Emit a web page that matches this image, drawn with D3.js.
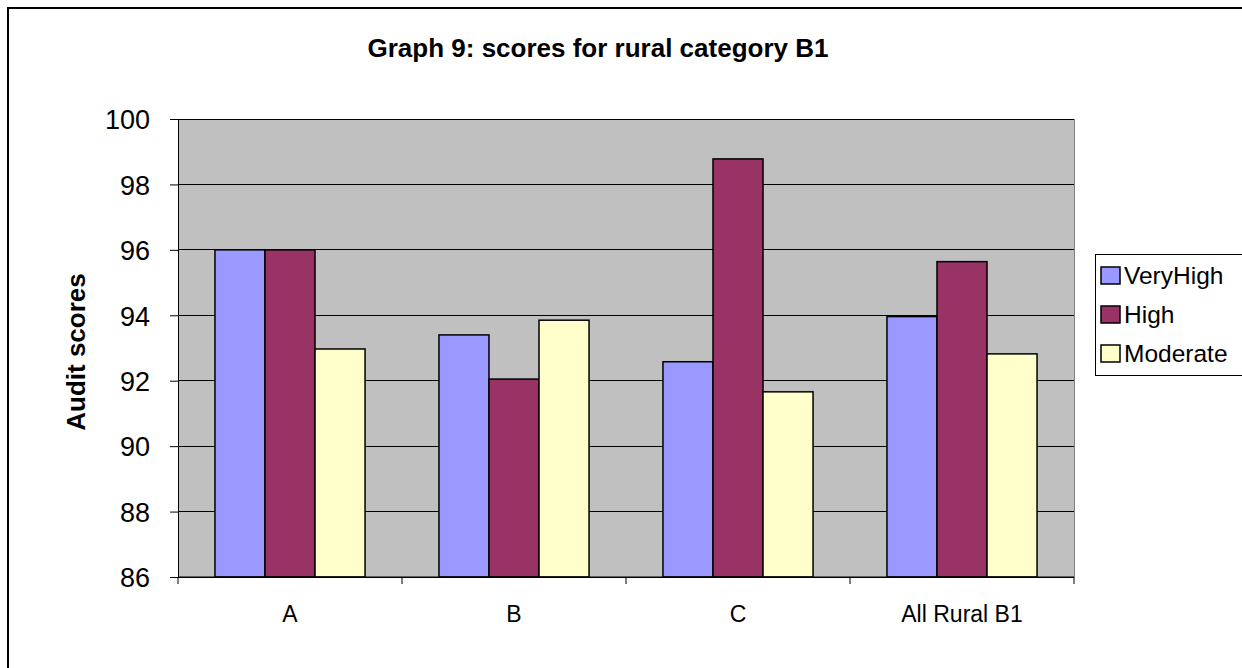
<!DOCTYPE html>
<html><head><meta charset="utf-8">
<script src="https://cdn.jsdelivr.net/npm/d3@7"></script>
<style>body{margin:0;background:#fff;}svg{display:block;font-family:"Liberation Sans",Arial,sans-serif;}</style>
</head><body>
<svg id="c" width="1242" height="668"></svg>
<script>
const categories = ["A", "B", "C", "All Rural B1"];
const seriesNames = ["VeryHigh", "High", "Moderate"];
const veryHigh = [96.0, 93.4, 92.58, 93.96];
const high = [96.0, 92.05, 98.78, 95.64];
const moderate = [92.97, 93.85, 91.66, 92.82];
const yTicks = [86, 88, 90, 92, 94, 96, 98, 100];
const colors = ["#9999FF", "#993366", "#FFFFCC"];
const seriesValues = [veryHigh, high, moderate];

const svg = d3.select("#c");
const L = 178, R = 1074, T = 119, B = 577;

// outer frame (left & top visible)
svg.append("path").attr("d", "M8,668 L8,8 L1242,8").attr("fill", "none").attr("stroke", "#000").attr("stroke-width", 2);

const x0 = d3.scaleBand().domain(categories).range([L, R]).paddingInner(0).paddingOuter(0);
const groupW = x0.bandwidth() * 0.67;
const x1 = d3.scaleBand().domain(seriesNames).range([0, groupW]);
const y = d3.scaleLinear().domain([86, 100]).range([B, T]);

svg.append("rect").attr("x", L).attr("y", T).attr("width", R - L).attr("height", B - T).attr("fill", "#C0C0C0");

// gridlines
svg.append("g").selectAll("line").data(yTicks).join("line")
  .attr("x1", L).attr("x2", R).attr("y1", d => y(d)).attr("y2", d => y(d))
  .attr("stroke", "#000").attr("stroke-width", 1).attr("shape-rendering", "crispEdges");
svg.append("line").attr("x1", R).attr("x2", R).attr("y1", T).attr("y2", B).attr("stroke", "#808080").attr("stroke-width", 1).attr("shape-rendering", "crispEdges");

// bars
const g = svg.append("g");
categories.forEach((c, ci) => {
  seriesNames.forEach((s, si) => {
    const v = seriesValues[si][ci];
    g.append("rect")
      .attr("x", x0(c) + (x0.bandwidth() - groupW) / 2 + x1(s))
      .attr("y", y(v))
      .attr("width", x1.bandwidth())
      .attr("height", y(86) - y(v))
      .attr("fill", colors[si]).attr("stroke", "#000").attr("stroke-width", 1.5);
  });
});

// y axis
const yAxis = d3.axisLeft(y).tickValues(yTicks).tickSize(8).tickPadding(20).tickFormat(d3.format("d"));
const ya = svg.append("g").attr("transform", `translate(${L},0)`).call(yAxis);
ya.attr("font-size", null).attr("font-family", null);
ya.selectAll("text").attr("font-size", 27).attr("fill", "#000").attr("dy", "0.36em");
ya.selectAll("line,path").attr("stroke", "#000");

// x axis
const xa = svg.append("g").attr("transform", `translate(0,${B})`);
xa.append("line").attr("x1", L).attr("x2", R).attr("y1", 0).attr("y2", 0).attr("stroke", "#000");
const bounds = categories.map(c => x0(c)).concat([R]);
xa.selectAll("line.t").data(bounds).join("line").attr("class", "t")
  .attr("x1", d => d).attr("x2", d => d).attr("y1", 0).attr("y2", 7).attr("stroke", "#000");
xa.selectAll("text").data(categories).join("text")
  .attr("x", d => x0(d) + x0.bandwidth() / 2).attr("y", 45)
  .attr("text-anchor", "middle").attr("font-size", 23).attr("fill", "#000").text(d => d);

// title
svg.append("text").attr("x", 598).attr("y", 57).attr("text-anchor", "middle")
  .attr("font-size", 26).attr("font-weight", "bold").text("Graph 9: scores for rural category B1");

// y label
svg.append("text").attr("transform", `translate(85,${(T + B) / 2 + 4}) rotate(-90)`)
  .attr("text-anchor", "middle").attr("font-size", 26).attr("font-weight", "bold").text("Audit scores");

// legend
const lg = svg.append("g");
lg.append("rect").attr("x", 1095.5).attr("y", 254.5).attr("width", 160).attr("height", 121)
  .attr("fill", "#fff").attr("stroke", "#000").attr("stroke-width", 1);
seriesNames.forEach((s, i) => {
  const base = 284 + i * 39;
  lg.append("rect").attr("x", 1101).attr("y", base - 17).attr("width", 19).attr("height", 17)
    .attr("fill", colors[i]).attr("stroke", "#000").attr("stroke-width", 1.5);
  lg.append("text").attr("x", 1124).attr("y", base).attr("font-size", 24.5).text(s);
});
</script>
</body></html>
